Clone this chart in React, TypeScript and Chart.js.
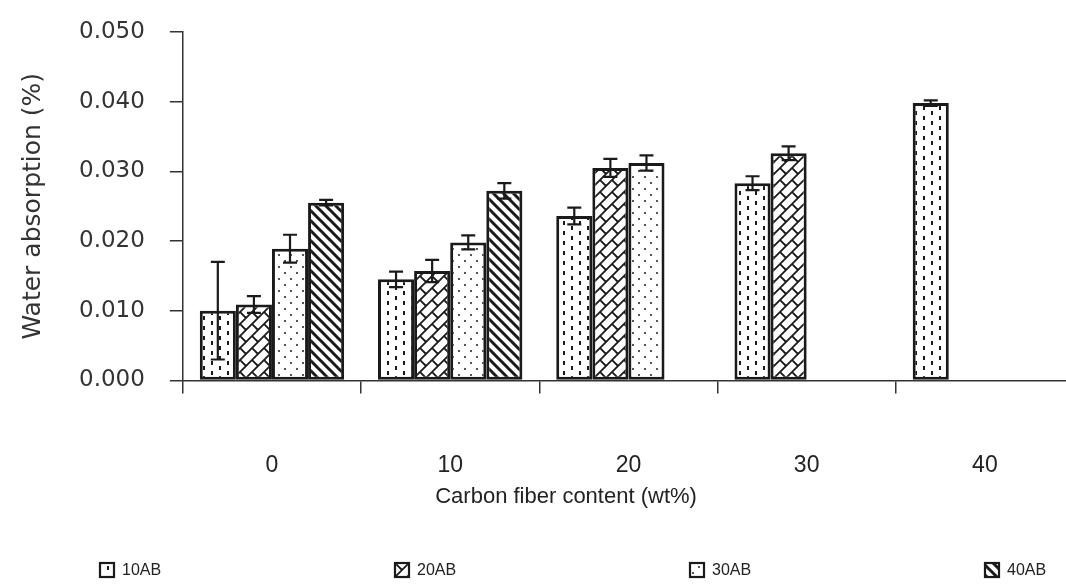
import React, { useEffect, useRef } from 'react';
import { Chart, registerables } from 'chart.js';

Chart.register(...registerables);

const categories = ['0', '10', '20', '30', '40'];
const seriesLabels = ['10AB', '20AB', '30AB', '40AB'];
const values10AB = [0.0100, 0.0145, 0.0236, 0.0283, 0.0398];
const errors10AB = [0.0070, 0.0011, 0.0012, 0.0010, 0.0004];
const values20AB = [0.0109, 0.0157, 0.0305, 0.0326, null];
const errors20AB = [0.0012, 0.0016, 0.0013, 0.0010, null];
const values30AB = [0.0189, 0.0198, 0.0312, null, null];
const errors30AB = [0.0020, 0.0010, 0.0011, null, null];
const values40AB = [0.0255, 0.0272, null, null, null];
const errors40AB = [0.0004, 0.0011, null, null, null];
const yTicks = [0, 0.01, 0.02, 0.03, 0.04, 0.05];
const xTitle = 'Carbon fiber content (wt%)';

const INK = '#1a1a1a';

function makePattern(kind: string): CanvasPattern | string {
  const c = document.createElement('canvas');
  let w = 12, h = 12;
  if (kind === 'dash') { w = 16; h = 10; }
  if (kind === 'brick') { w = 12; h = 12; }
  if (kind === 'dots') { w = 12; h = 12; }
  if (kind === 'stripe') { w = 10; h = 10; }
  c.width = w; c.height = h;
  const g = c.getContext('2d')!;
  g.fillStyle = '#ffffff';
  g.fillRect(0, 0, w, h);
  g.fillStyle = INK;
  g.strokeStyle = INK;
  if (kind === 'dash') {
    g.fillRect(3, 1, 2, 4);
    g.fillRect(11, 6, 2, 4);
  } else if (kind === 'dots') {
    g.fillStyle = '#555';
    g.fillRect(2, 2, 2, 2);
    g.fillRect(8, 8, 2, 2);
  } else if (kind === 'brick') {
    g.lineWidth = 1.8;
    g.beginPath();
    for (const o of [-12, 0, 12]) {
      g.moveTo(o - 2, h + 2);
      g.lineTo(o + w + 2, -2);
    }
    g.moveTo(-1, -1);
    g.lineTo(6, 6);
    g.moveTo(11, -1);
    g.lineTo(12.5, 0.5);
    g.moveTo(-1, 11);
    g.lineTo(0.5, 12.5);
    g.stroke();
  } else if (kind === 'stripe') {
    g.lineWidth = 3;
    g.beginPath();
    for (const o of [-10, 0, 10]) {
      g.moveTo(o - 2, -2);
      g.lineTo(o + w + 2, h + 2);
    }
    g.stroke();
  }
  return g.createPattern(c, 'repeat') || '#fff';
}

const errorBarPlugin = {
  id: 'errorBars',
  afterDatasetsDraw(chart: any) {
    const ctx = chart.ctx;
    const yScale = chart.scales.y;
    ctx.save();
    ctx.strokeStyle = INK;
    ctx.lineWidth = 2.2;
    chart.data.datasets.forEach((ds: any, i: number) => {
      const meta = chart.getDatasetMeta(i);
      ds.data.forEach((v: number | null, j: number) => {
        const e = ds.errors[j];
        if (v == null || e == null) return;
        const el = meta.data[j];
        const x = el.x;
        const yt = yScale.getPixelForValue(v + e);
        const yb = yScale.getPixelForValue(v - e);
        const cap = 7;
        ctx.beginPath();
        ctx.moveTo(x, yt);
        ctx.lineTo(x, yb);
        ctx.moveTo(x - cap, yt);
        ctx.lineTo(x + cap, yt);
        ctx.moveTo(x - cap, yb);
        ctx.lineTo(x + cap, yb);
        ctx.stroke();
      });
    });
    ctx.restore();
  },
};

const xTitlePlugin = {
  id: 'xTitle',
  afterDraw(chart: any) {
    const ctx = chart.ctx;
    const area = chart.chartArea;
    ctx.save();
    ctx.fillStyle = '#222';
    ctx.font = '22px "Liberation Sans", Arial, sans-serif';
    ctx.textAlign = 'center';
    ctx.textBaseline = 'middle';
    ctx.fillText(xTitle, area.left + area.width * 0.43, area.bottom + 117);
    ctx.restore();
  },
};

const legendPlugin = {
  id: 'spacedLegend',
  afterDraw(chart: any) {
    const ctx = chart.ctx;
    const startX = 100;
    const step = 295;
    const cy = 570;
    const box = 14;
    ctx.save();
    chart.data.datasets.forEach((ds: any, i: number) => {
      const x = startX + i * step;
      ctx.fillStyle = ds.backgroundColor;
      ctx.fillRect(x, cy - box / 2, box, box);
      ctx.strokeStyle = INK;
      ctx.lineWidth = 2.2;
      ctx.strokeRect(x, cy - box / 2, box, box);
      ctx.fillStyle = '#222';
      ctx.font = '16px "Liberation Sans", Arial, sans-serif';
      ctx.textBaseline = 'middle';
      ctx.textAlign = 'left';
      ctx.fillText(ds.label, x + box + 8, cy + 1);
    });
    ctx.restore();
  },
};

export default function App() {
  const ref = useRef<HTMLCanvasElement>(null);
  useEffect(() => {
    if (!ref.current) return;
    const kinds = ['dash', 'brick', 'dots', 'stripe'];
    const values = [values10AB, values20AB, values30AB, values40AB];
    const errors = [errors10AB, errors20AB, errors30AB, errors40AB];
    const chart = new Chart(ref.current, {
      type: 'bar',
      data: {
        labels: categories,
        datasets: seriesLabels.map((label, i) => ({
          label,
          data: values[i],
          errors: errors[i],
          backgroundColor: makePattern(kinds[i]),
          borderColor: INK,
          borderWidth: 3,
          borderSkipped: false,
          categoryPercentage: 0.81,
          barPercentage: 1.0,
        })) as any,
      },
      options: {
        responsive: false,
        animation: false,
        events: [],
        layout: { padding: { top: 32, left: 10, right: 16, bottom: 49 } },
        plugins: {
          legend: { display: false },
          tooltip: { enabled: false },
        },
        scales: {
          x: {
            grid: {
              offset: true,
              drawOnChartArea: false,
              tickLength: 13,
              color: '#333',
              lineWidth: 1.5,
            },
            border: { color: '#333', width: 1.5 },
            ticks: {
              padding: 58,
              color: '#222',
              font: { family: '"Liberation Sans", Arial, sans-serif', size: 23 },
            },
          },
          y: {
            min: 0,
            max: 0.05,
            afterBuildTicks: (axis: any) => {
              axis.ticks = yTicks.map((v) => ({ value: v }));
            },
            grid: {
              drawOnChartArea: false,
              tickLength: 13,
              color: '#333',
              lineWidth: 1.5,
            },
            border: { color: '#333', width: 1.5 },
            ticks: {
              padding: 25,
              color: '#333',
              font: { family: '"DejaVu Sans", sans-serif', size: 23, lineHeight: 0.5 },
              callback: (v: any) => Number(v).toFixed(3),
            },
            title: {
              display: true,
              text: 'Water absorption (%)',
              color: '#333',
              padding: { top: 8, bottom: 6 },
              font: { family: '"DejaVu Sans", sans-serif', size: 25 },
            },
          },
        },
      },
      plugins: [errorBarPlugin, xTitlePlugin, legendPlugin],
    });
    return () => chart.destroy();
  }, []);
  return (
    <div
      style={{
        position: 'fixed',
        left: 0,
        top: 0,
        width: 1066,
        height: 586,
        overflow: 'hidden',
        background: '#fff',
      }}
    >
      <canvas ref={ref} width={1090} height={586} style={{ display: 'block' }} />
    </div>
  );
}
